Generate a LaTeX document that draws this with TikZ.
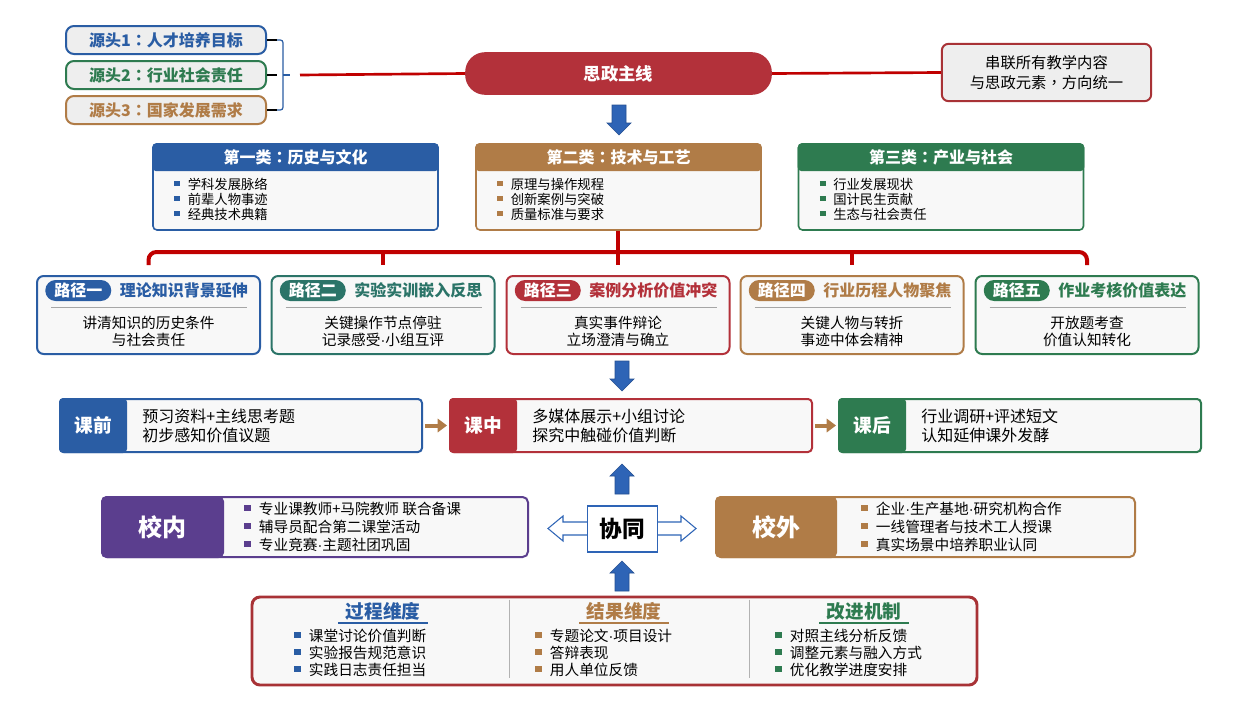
\documentclass[tikz,border=0pt]{standalone}
\usepackage{fontspec}
\setmainfont{Noto Sans CJK SC}
\newfontfamily\tcfont{Noto Sans CJK TC}
\newfontfamily\latinfont{Liberation Sans}
\usepackage{tikz}
\usetikzlibrary{calc,arrows.meta,positioning}

\definecolor{cblue}{HTML}{2A5DA4}
\definecolor{cbrown}{HTML}{B07C47}
\definecolor{cgreen}{HTML}{2E7B50}
\definecolor{cteal}{HTML}{2B7468}
\definecolor{cred}{HTML}{B3313A}
\definecolor{cdred}{HTML}{A83236}
\definecolor{redline}{HTML}{C00000}
\definecolor{cpurple}{HTML}{5B3E8E}
\definecolor{arrowblue}{HTML}{2E64B6}
\definecolor{srcfill}{HTML}{EEEEEE}
\definecolor{bodyfill}{HTML}{F8F8F8}

\tikzset{
  srcbox/.style={draw=#1, line width=1.5pt, rounded corners=6pt, fill=srcfill,
    minimum width=150pt, minimum height=21pt, inner sep=0pt, text=#1,
    font=\fontsize{12}{14}\selectfont\bfseries},
  mainline/.style={fill=cred, rounded corners=15pt, minimum width=230pt,
    minimum height=32pt, text=white, font=\fontsize{13}{15}\selectfont\bfseries},
  notebox/.style={draw=cdred, line width=1.5pt, rounded corners=5pt, fill=srcfill,
    minimum width=157pt, minimum height=43pt, align=center,
    font=\fontsize{11.5}{15}\selectfont},
  redbus/.style={redline, line width=3pt},
  blockarr/.style={fill=arrowblue, draw=arrowblue!80!black, line width=0.5pt},
  hollowarr/.style={fill=white, draw=arrowblue, line width=0.8pt},
  catbox/.style={draw=#1, line width=1.2pt, rounded corners=3pt, fill=bodyfill,
    minimum width=213.75pt, minimum height=64.5pt, inner sep=0pt},
  cathead/.style={text=white, font=\fontsize{12}{14}\selectfont\bfseries},
  catitems/.style={align=left, inner sep=0pt, font=\fontsize{10}{11.25}\selectfont},
  pathbox/.style={draw=#1, line width=1.5pt, rounded corners=5pt, fill=bodyfill,
    minimum width=167.25pt, minimum height=58.5pt, inner sep=0pt},
  pathtag/.style={fill=#1, rounded corners=7.8pt, minimum width=49.5pt,
    minimum height=15.75pt, inner sep=0pt, text=white,
    font=\fontsize{12}{14}\selectfont\bfseries},
  pathtitle/.style={text=#1, inner sep=0pt, font=\fontsize{12}{14}\selectfont\bfseries},
  pathbody/.style={align=center, inner sep=0pt, font=\fontsize{11}{12.75}\selectfont},
  sepline/.style={gray!70, line width=0.6pt},
  stagebox/.style={draw=#1, line width=1.5pt, rounded corners=3pt, fill=bodyfill,
    minimum width=271.5pt, minimum height=39.75pt, inner sep=0pt},
  stagetag/.style={text=white, font=\fontsize{14}{16}\selectfont\bfseries},
  stagetext/.style={align=left, inner sep=0pt, font=\fontsize{12}{14.25}\selectfont},
  stagearrow/.style={cbrown, line width=3pt, -{Triangle[length=7pt,width=10pt]},
    shorten <=1.5pt, shorten >=1.5pt},
  cobox/.style={draw=#1, line width=1.5pt, rounded corners=4pt, fill=bodyfill,
    minimum width=319.5pt, minimum height=45pt, inner sep=0pt},
  cotag/.style={text=white, font=\fontsize{18}{20}\selectfont\bfseries},
  coitems/.style={align=left, inner sep=0pt, font=\fontsize{11}{13.5}\selectfont},
  xtbox/.style={draw=arrowblue, line width=0.8pt, fill=white, minimum width=53pt,
    minimum height=34.5pt, inner sep=0pt, font=\fontsize{17}{19}\selectfont\bfseries},
  evalbox/.style={draw=cdred, line width=2.2pt, rounded corners=6pt, fill=bodyfill,
    minimum width=543.75pt, minimum height=66pt, inner sep=0pt},
  evalhead/.style={text=#1, inner sep=0pt, font=\fontsize{14}{16}\selectfont\bfseries},
  evalitems/.style={align=left, inner sep=0pt, font=\fontsize{11}{12.75}\selectfont},
}

\newcommand{\Bul}[1]{\textcolor{#1}{\rule[0.22em]{0.45em}{0.42em}}\hspace{0.55em}}
\newcommand{\cln}{{\tcfont ：}}
\newcommand{\mdot}{{\latinfont ·}}

% #1 tip coordinate, #2 = 1 pointing down, -1 pointing up
\newcommand{\BlockArrow}[2]{%
  \path[blockarr] (#1) -- ++(-12,-12*#2) -- ++(5,0) -- ++(0,-18*#2)
    -- ++(14,0) -- ++(0,18*#2) -- ++(5,0) -- cycle;
}

% #1 name, #2 x centre, #3 colour, #4 title, #5 items
\newcommand{\CatBox}[5]{%
  \node[catbox=#3] (#1) at (#2,187) {};
  \fill[#3, rounded corners=3pt] (#1.north west) rectangle ($(#1.north east)+(0,28)$);
  \node[cathead] (#1h) at ($(#1.north)+(0,14)$) {#4};
  \node[catitems, anchor=west] (#1l) at ($(#1.west)+(22,12)$) {#5};
}

% #1 name, #2 x centre, #3 colour, #4 tag, #5 title, #6 body
\newcommand{\PathBox}[6]{%
  \node[pathbox=#3] (#1) at (#2,315) {};
  \node[pathtag=#3, anchor=west] (#1tag) at ($(#1.north west)+(9,15.5)$) {#4};
  \node[pathtitle=#3, anchor=west] (#1ti) at ($(#1tag.east)+(8,0)$) {#5};
  \draw[sepline] ($(#1.north west)+(15,32)$) -- ($(#1.north east)+(-14,32)$);
  \node[pathbody] (#1b) at ($(#1.north)+(0,56.5)$) {#6};
}

% #1 name, #2 x centre, #3 colour, #4 tag, #5 text
\newcommand{\StageBox}[5]{%
  \node[stagebox=#3] (#1) at (#2,425.5) {};
  \fill[#3, rounded corners=3pt] (#1.north west) rectangle ($(#1.south west)+(68,0)$);
  \node[stagetag] (#1tag) at ($(#1.west)+(34,0)$) {#4};
  \node[stagetext, anchor=west] (#1t) at ($(#1.west)+(83,0)$) {#5};
}

\begin{document}
\begin{tikzpicture}[x=0.75pt, y=-0.75pt]

  \fill[white] (0,0) rectangle (1235,707);
  \useasboundingbox (0,0) rectangle (1235,707);

  % sources
  \node[srcbox=cblue] (src1) at (166,40) {源头1\cln 人才培养目标};
  \node[srcbox=cgreen] (src2) at (166,75) {源头2\cln 行业社会责任};
  \node[srcbox=cbrown] (src3) at (166,110) {源头3\cln 国家发展需求};

  \coordinate (brT) at (283,40);
  \coordinate (brM) at (283,75);
  \coordinate (brB) at (283,110);
  \coordinate (redL) at (300,75);

  \draw[line width=1.5pt] (src1.east) -- ++(10,0);
  \draw[line width=1.5pt] (src2.east) -- ++(10,0);
  \draw[line width=1.5pt] (src3.east) -- ++(10,0);
  \draw[cblue, line width=0.9pt, rounded corners=2pt]
    ($(src1.east)+(10,0)$) -- (brT) -- (brB) -- ($(src3.east)+(10,0)$);
  \draw[cblue, line width=0.9pt] (brM) -- ++(7,0);

  % main line
  \node[mainline] (zhuxian) at (618.5,73.5) {思政主线};
  \node[notebox] (note) at (1046.5,72.5) {串联所有教学内容\\与思政元素{\tcfont ，}方向统一};
  \draw[redline, line width=2pt] (redL) -- (zhuxian.west);
  \draw[redline, line width=2pt] (zhuxian.east) -- (note.west);

  \coordinate (arr1) at (619,135);
  \BlockArrow{arr1}{1}

  % categories
  \CatBox{cat1}{295.5}{cblue}{第一类\cln 历史与文化}
    {\Bul{cblue}学科发展脉络\\\Bul{cblue}前辈人物事迹\\\Bul{cblue}经典技术典籍}
  \CatBox{cat2}{618.5}{cbrown}{第二类\cln 技术与工艺}
    {\Bul{cbrown}原理与操作规程\\\Bul{cbrown}创新案例与突破\\\Bul{cbrown}质量标准与要求}
  \CatBox{cat3}{941}{cgreen}{第三类\cln 产业与社会}
    {\Bul{cgreen}行业发展现状\\\Bul{cgreen}国计民生贡献\\\Bul{cgreen}生态与社会责任}

  % paths
  \PathBox{p1}{148.5}{cblue}{路径一}{理论知识背景延伸}{讲清知识的历史条件\\与社会责任}
  \PathBox{p2}{383}{cteal}{路径二}{实验实训嵌入反思}{关键操作节点停驻\\记录感受\mdot 小组互评}
  \PathBox{p3}{618}{cred}{路径三}{案例分析价值冲突}{真实事件辩论\\立场澄清与确立}
  \PathBox{p4}{852}{cbrown}{路径四}{行业历程人物聚焦}{关键人物与转折\\事迹中体会精神}
  \PathBox{p5}{1087}{cgreen}{路径五}{作业考核价值表达}{开放题考查\\价值认知转化}

  % red bus
  \coordinate (busL) at (148.5,252);
  \coordinate (busR) at (1087,252);
  \draw[redbus, rounded corners=6pt]
    ($(p1.north)+(0,-10)$) -- (busL) -- (busR) -- ($(p5.north)+(0,-10)$);
  \draw[redbus] (cat2.south -| p3.north) -- ($(p3.north)+(0,-10)$);
  \draw[redbus] (busL -| p2.north) -- ($(p2.north)+(0,-10)$);
  \draw[redbus] (busL -| p4.north) -- ($(p4.north)+(0,-10)$);

  \coordinate (arr2) at (622,391);
  \BlockArrow{arr2}{1}

  % stages
  \StageBox{s1}{241}{cblue}{课前}{预习资料+主线思考题\\初步感知价值议题}
  \StageBox{s2}{631}{cred}{课中}{多媒体展示+小组讨论\\探究中触碰价值判断}
  \StageBox{s3}{1020}{cgreen}{课后}{行业调研+评述短文\\认知延伸课外发酵}
  \draw[stagearrow] (s1.east) -- (s2.west);
  \draw[stagearrow] (s2.east) -- (s3.west);

  \coordinate (arr3) at (622,464);
  \BlockArrow{arr3}{-1}

  % cooperation
  \node[cobox=cpurple] (xn) at (315,527) {};
  \fill[cpurple, rounded corners=4pt] (xn.north west) rectangle ($(xn.south west)+(123,0)$);
  \node[cotag] (xntag) at ($(xn.west)+(61.5,0)$) {校内};
  \node[coitems, anchor=west] (xnl) at ($(xn.west)+(143,0)$)
    {\Bul{cpurple}专业课教师+马院教师 联合备课\\\Bul{cpurple}辅导员配合第二课堂活动\\\Bul{cpurple}专业竞赛\mdot 主题社团巩固};

  \node[cobox=cbrown, minimum width=314.25pt] (xw) at (925.5,527) {};
  \fill[cbrown, rounded corners=4pt] (xw.north west) rectangle ($(xw.south west)+(122,0)$);
  \node[cotag] (xwtag) at ($(xw.west)+(61,0)$) {校外};
  \node[coitems, anchor=west] (xwl) at ($(xw.west)+(146,0)$)
    {\Bul{cbrown}企业\mdot 生产基地\mdot 研究机构合作\\\Bul{cbrown}一线管理者与技术工人授课\\\Bul{cbrown}真实场景中培养职业认同};

  \coordinate (dblL) at (548,528.5);
  \coordinate (dblR) at (696,528.5);
  \path[hollowarr] (dblL) -- ++(15,-12.5) -- ++(0,6) -- ($(dblR)+(-15,-6.5)$)
    -- ++(0,-6) -- (dblR) -- ++(-15,12.5) -- ++(0,-6) -- ($(dblL)+(15,6.5)$)
    -- ++(0,6) -- cycle;
  \node[xtbox] (xt) at (622.5,529) {协同};

  \coordinate (arr4) at (622,561);
  \BlockArrow{arr4}{-1}

  % evaluation
  \node[evalbox] (eval) at (614.5,641) {};
  \draw[gray!60, line width=0.6pt] ($(eval.north west)+(259,4)$) -- ($(eval.south west)+(259,-8)$);
  \draw[gray!60, line width=0.6pt] ($(eval.north west)+(499,4)$) -- ($(eval.south west)+(499,-8)$);

  \node[evalhead=cblue] (e1h) at (383,611) {过程维度};
  \node[evalhead=cbrown] (e2h) at (624,611) {结果维度};
  \node[evalhead=cgreen] (e3h) at (864,611) {改进机制};
  \draw[cblue, line width=1pt] ($(e1h)+(-45,12)$) -- ($(e1h)+(45,12)$);
  \draw[cbrown, line width=1pt] ($(e2h)+(-45,12)$) -- ($(e2h)+(45,12)$);
  \draw[cgreen, line width=1pt] ($(e3h)+(-45,12)$) -- ($(e3h)+(45,12)$);

  \node[evalitems, anchor=west] (e1l) at (294,653)
    {\Bul{cblue}课堂讨论价值判断\\\Bul{cblue}实验报告规范意识\\\Bul{cblue}实践日志责任担当};
  \node[evalitems, anchor=west] (e2l) at (535,653)
    {\Bul{cbrown}专题论文\mdot 项目设计\\\Bul{cbrown}答辩表现\\\Bul{cbrown}用人单位反馈};
  \node[evalitems, anchor=west] (e3l) at (775,653)
    {\Bul{cgreen}对照主线分析反馈\\\Bul{cgreen}调整元素与融入方式\\\Bul{cgreen}优化教学进度安排};

\end{tikzpicture}
\end{document}
